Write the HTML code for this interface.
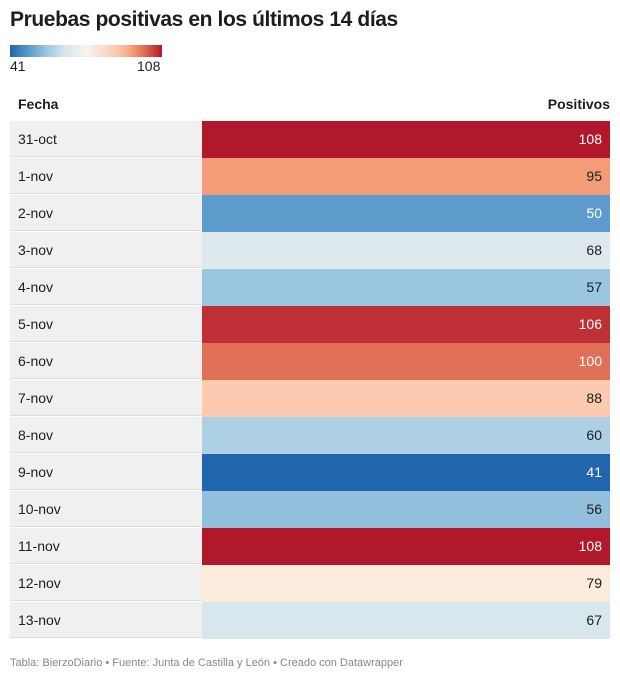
<!DOCTYPE html>
<html><head><meta charset="utf-8"><style>
body{margin:0;background:#fff;font-family:"Liberation Sans",sans-serif;color:#1d1d1d;width:620px;height:682px;position:relative;overflow:hidden}
h1{position:absolute;left:10px;top:8px;margin:0;font-size:21px;font-weight:bold;letter-spacing:-0.4px}
#legend{position:absolute;left:10px;top:45px;width:152px;height:12px}
.ll{position:absolute;top:58px;font-size:14px}
.hdr{position:absolute;top:96px;font-size:14px;font-weight:bold}
#rows{position:absolute;left:10px;top:121px;width:600px}
.row{position:relative;height:37px;font-size:14px}
.d{position:absolute;left:0;top:0;width:192px;height:36px;background:#f0f0f0;border-bottom:1px solid #ddd;line-height:36px;padding-left:8px;box-sizing:border-box}
.v{position:absolute;left:192px;top:0;width:408px;height:37px;line-height:36px;text-align:right;padding-right:8px;box-sizing:border-box}
.foot{position:absolute;left:10px;top:657px;font-size:11px;color:#888}
</style></head><body>
<h1>Pruebas positivas en los últimos 14 días</h1>
<div id="legend" style="background:linear-gradient(to right,#2166ac,#5d9cca 13%,#9bc6df 24%,#d6e6ee 36%,#f7f4ee 50%,#fbcbb1 70%,#f4a07a 80%,#e07057 88%,#b2182b)"></div>
<div class="ll" style="left:10px">41</div>
<div class="ll" style="left:137px">108</div>
<div class="hdr" style="left:18px">Fecha</div>
<div class="hdr" style="right:10px">Positivos</div>
<div id="rows"></div>
<div class="foot">Tabla: BierzoDiario • Fuente: Junta de Castilla y León • Creado con Datawrapper</div>
<script>
const dates=["31-oct","1-nov","2-nov","3-nov","4-nov","5-nov","6-nov","7-nov","8-nov","9-nov","10-nov","11-nov","12-nov","13-nov"];
const values=[108,95,50,68,57,106,100,88,60,41,56,108,79,67];
const minV=41,maxV=108;
const stops=[[0,[33,102,172]],[0.134,[93,156,202]],[0.239,[155,198,223]],[0.3,[181,212,230]],[0.4,[221,233,238]],[0.5,[247,244,238]],[0.57,[250,235,220]],[0.7,[251,203,177]],[0.8,[244,160,122]],[0.88,[224,112,87]],[0.97,[190,48,54]],[1,[178,24,43]]];
function color(v){let t=(v-minV)/(maxV-minV);t=Math.max(0,Math.min(1,t));
for(let i=1;i<stops.length;i++){if(t<=stops[i][0]){const a=stops[i-1],b=stops[i],f=(t-a[0])/(b[0]-a[0]);return [0,1,2].map(k=>Math.round(a[1][k]+(b[1][k]-a[1][k])*f));}}return stops[stops.length-1][1];}
const rows=document.getElementById('rows');
dates.forEach((d,i)=>{
const r=document.createElement('div');r.className='row';


const a=document.createElement('div');a.className='d';a.textContent=d;


const b=document.createElement('div');b.className='v';b.textContent=values[i];


const c=color(values[i]);b.style.background='rgb('+c.join(',')+')';
const lum=0.299*c[0]+0.587*c[1]+0.114*c[2];b.style.color=lum<150?'#fff':'#1d1d1d';
r.appendChild(a);r.appendChild(b);rows.appendChild(r);});
</script>
</body></html>
